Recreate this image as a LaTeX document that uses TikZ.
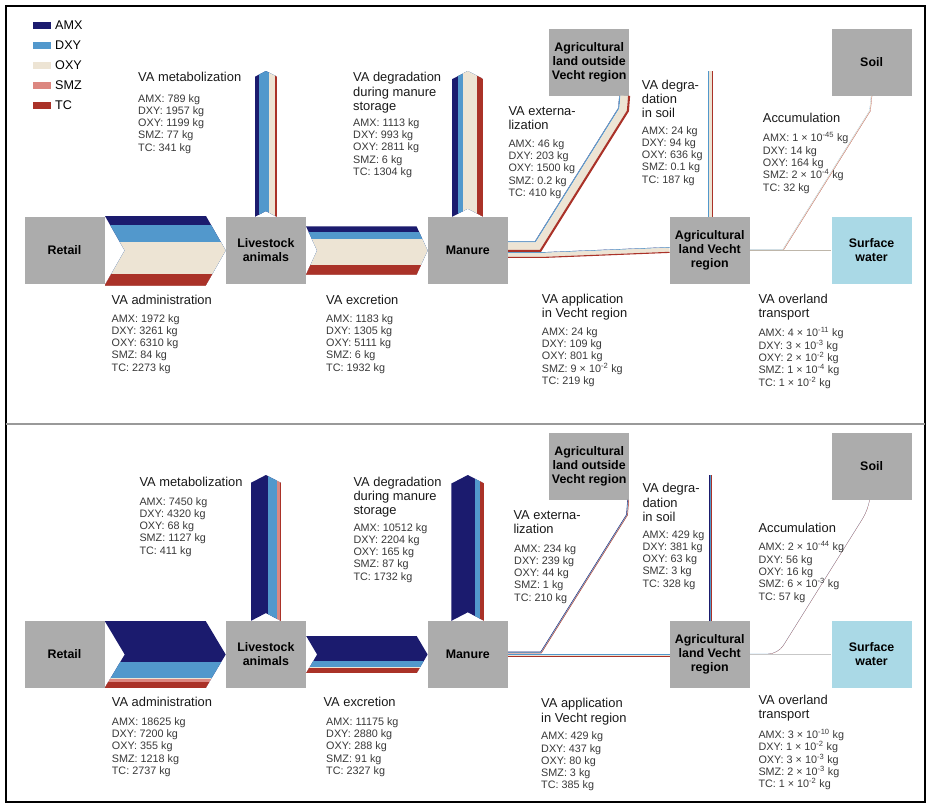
\documentclass[tikz,border=0pt]{standalone}
\usepackage{fontspec}
\setmainfont{Liberation Sans}
\usetikzlibrary{positioning, calc}

\definecolor{amx}{RGB}{27,27,110}
\definecolor{dxy}{RGB}{82,152,204}
\definecolor{oxy}{RGB}{237,228,212}
\definecolor{smz}{RGB}{220,135,128}
\definecolor{tc}{RGB}{170,50,40}
\definecolor{boxgray}{RGB}{172,172,172}
\definecolor{waterblue}{RGB}{170,217,230}
\colorlet{c1}{amx}
\colorlet{c2}{dxy}
\colorlet{c3}{oxy}
\colorlet{c4}{smz}
\colorlet{c5}{tc}

\newcommand\sci[1]{10\textsuperscript{#1}}

% sum of a list of values (tonnes) -> \tot
\newcommand\sumvals[1]{%
  \gdef\tot{0}%
  \foreach \val in {#1}{\pgfmathsetmacro\tmpsum{\tot+\val}\xdef\tot{\tmpsum}}%
}

% wide horizontal band (chevron) between two boxes
\newcommand\hflow[4]{%
  \sumvals{#4}%
  \pgfmathsetmacro\hh{\tot*\scl/2}%
  \begin{scope}
    \clip ($(#1.east)+(0,-\hh)$) -- ($(#2.west)+(-#3,-\hh)$) -- (#2.west)
      -- ($(#2.west)+(-#3,\hh)$) -- ($(#1.east)+(0,\hh)$) -- ($(#1.east)+(#3,0)$) -- cycle;
    \gdef\cum{0}%
    \foreach \val [count=\idx] in {#4}{%
      \pgfmathsetmacro\ya{-\hh+\cum*\scl}%
      \fill[c\idx] ($(#1.east)+(0,\ya)$) rectangle ($(#2.west)+(0,\hh)$);
      \pgfmathsetmacro\tmpsum{\cum+\val}\xdef\cum{\tmpsum}%
    }
  \end{scope}
}

% wide vertical band leaving a box upwards
\newcommand\vflow[3]{%
  \sumvals{#3}%
  \pgfmathsetmacro\hw{\tot*\scl/2}%
  \pgfmathsetmacro\dv{0.52*\hw}%
  \begin{scope}
    \clip ($(#1.north)+(-\hw,0)$) -- ($(#1.north |- #2)+(-\hw,\dv)$) -- (#1.north |- #2)
      -- ($(#1.north |- #2)+(\hw,\dv)$) -- ($(#1.north)+(\hw,0)$) -- ($(#1.north)+(0,-\dv)$) -- cycle;
    \gdef\cum{0}%
    \foreach \val [count=\idx] in {#3}{%
      \pgfmathsetmacro\xa{-\hw+\cum*\scl}%
      \fill[c\idx] ($(#1.north)+(\xa,0)$) rectangle ($(#1.north |- #2)+(\hw,0)$);
      \pgfmathsetmacro\tmpsum{\cum+\val}\xdef\cum{\tmpsum}%
    }
  \end{scope}
}

% thin band: one stroke per substance, shifted sideways
\newcommand\thinflow[2]{%
  \sumvals{#2}%
  \gdef\cum{0}%
  \foreach \val [count=\idx] in {#2}{%
    \pgfmathsetmacro\wid{\val*\scl}%
    \pgfmathsetmacro\off{(\tot/2-\cum-\val/2)*\scl}%
    \ifdim\wid pt>0.05pt
      #1{c\idx, line width=\wid pt}{\off}%
    \fi
    \pgfmathsetmacro\tmpsum{\cum+\val}\xdef\cum{\tmpsum}%
  }%
}

% paths of the thin bands (#2 = sideways offset)
\newcommand\extA[2]{\draw[#1] ($(manure.east)+(0,{-4-(#2)})$) -- ({538-0.554*(#2)},{246.5-(#2)})
  -- ({623.5-(#2)},{109.7-0.287*(#2)}) -- ($(agout.south)+({35.5-(#2)},0)$);}
\newcommand\appA[2]{\draw[#1] ($(manure.east)+(0,{4.5-(#2)})$) -- (545,{255-(#2)})
  -- ($(agvecht.west)+(0,{-0.5-(#2)})$);}
\newcommand\degA[2]{\draw[#1] ($(agvecht.north)+({1-(#2)},0)$) -- ($(agvecht.north |- tipA)+({1-(#2)},0)$);}
\newcommand\accA[2]{\draw[#1] ($(agvecht.east)+(0,{-0.5-(#2)})$) -- ({783-0.554*(#2)},{250-(#2)})
  -- ({870-(#2)},{110.8-0.287*(#2)}) -- ($(soil.south)+({-(#2)},0)$);}

\newcommand\extB[2]{\draw[#1] ($(manureB.east)+(0,{-2-(#2)})$) -- ({541-0.554*(#2)},{248.5-(#2)})
  -- ({627-(#2)},{110.9-0.287*(#2)}) -- ($(agoutB.south)+({39-(#2)},0)$);}
\newcommand\appB[2]{\draw[#1] ($(manureB.east)+(0,{0.5-(#2)})$) -- ($(agvechtB.west)+(0,{0.5-(#2)})$);}
\newcommand\degB[2]{\draw[#1] ($(agvechtB.north)+({0.5-(#2)},0)$) -- ($(agvechtB.north |- tipB)+({0.5-(#2)},0)$);}
\newcommand\accB[2]{\draw[#1, rounded corners=10pt] ($(agvechtB.east)+(0,{-0.5-(#2)})$) -- ({778-0.554*(#2)},{250-(#2)})
  -- ({868-(#2)},{106-0.287*(#2)}) -- ($(soilB.south)+({-2-(#2)},0)$);}

\begin{document}
\begin{tikzpicture}[
    x=1pt, y=-1pt,
    box/.style={
        fill=boxgray,
        minimum width=80pt,
        minimum height=67pt,
        inner sep=0pt,
        align=center,
        font=\bfseries\fontsize{12.4}{14}\selectfont,
    },
    water/.style={
        box,
        fill=waterblue,
    },
    title/.style={
        anchor=north west,
        inner sep=0pt,
        align=left,
        text=black!90,
        font=\fontsize{12.9}{14.2}\selectfont,
    },
    vals/.style={
        anchor=north west,
        inner sep=0pt,
        align=left,
        text=black!78,
        font=\fontsize{10.8}{12.3}\selectfont,
    },
    legend/.style={
        anchor=west,
        inner sep=0pt,
        font=\fontsize{12.6}{14}\selectfont,
    },
]

    \useasboundingbox (0,0) rectangle (930,804);
    \draw[line width=1.6pt] (6,6) rectangle (925,802);
    \draw[black!40, line width=1.2pt] (6,424) -- (925,424);

    % legend
    \foreach \name [count=\idx] in {AMX,DXY,OXY,SMZ,TC}{
        \fill[c\idx] (33,{21.7+20*(\idx-1)}) rectangle +(18,7.3);
        \node[legend] (lgd\idx) at (55,{25.3+20*(\idx-1)}) {\name};
    }

    % upper panel
    \def\scl{5.036}
    \coordinate (tipA) at (0,71);
    \node[box] (retail) at (64.5,250.5) {Retail};
    \node[box, right=121pt of retail] (livestock) {Livestock\\animals};
    \node[box, right=121.5pt of livestock] (manure) {Manure};
    \node[box, right=161.5pt of manure] (agvecht) {Agricultural\\land Vecht\\region};
    \node[water, right=81.5pt of agvecht] (water) {Surface\\water};
    \node[box, above=121pt of water] (soil) {Soil};
    \node[box, left=202pt of soil] (agout) {Agricultural\\land outside\\Vecht region};

    \hflow{retail}{livestock}{20}{1.972,3.261,6.310,0.084,2.273}
    \vflow{livestock}{tipA}{0.789,1.957,1.199,0.077,0.341}
    \hflow{livestock}{manure}{11}{1.183,1.305,5.111,0.006,1.932}
    \vflow{manure}{tipA}{1.113,0.993,2.811,0.006,1.304}
    \thinflow{\extA}{0.046,0.203,1.500,0.0002,0.410}
    \thinflow{\appA}{0.024,0.109,0.801,0.00009,0.219}
    \thinflow{\degA}{0.024,0.094,0.636,0.0001,0.187}
    \thinflow{\accA}{0,0.014,0.164,0,0.032}
    \draw[oxy!80!black, line width=0.7pt] (agvecht.east) -- (water.west);

    \node[title] (metabT) at (138,72) {VA metabolization};
    \node[vals] (metabV) at (138,94) {AMX: 789 kg\\DXY: 1957 kg\\OXY: 1199 kg\\SMZ: 77 kg\\TC: 341 kg};
    \node[title] (adminT) at (111.5,294.5) {VA administration};
    \node[vals] (adminV) at (111.5,314) {AMX: 1972 kg\\DXY: 3261 kg\\OXY: 6310 kg\\SMZ: 84 kg\\TC: 2273 kg};
    \node[title] (excrT) at (326,294.5) {VA excretion};
    \node[vals] (excrV) at (326,314) {AMX: 1183 kg\\DXY: 1305 kg\\OXY: 5111 kg\\SMZ: 6 kg\\TC: 1932 kg};
    \node[title] (degmanT) at (353,72.3) {VA degradation\\during manure\\storage};
    \node[vals] (degmanV) at (353,118.3) {AMX: 1113 kg\\DXY: 993 kg\\OXY: 2811 kg\\SMZ: 6 kg\\TC: 1304 kg};
    \node[title] (extT) at (508.3,106) {VA externa-\\lization};
    \node[vals] (extV) at (508.3,139.3) {AMX: 46 kg\\DXY: 203 kg\\OXY: 1500 kg\\SMZ: 0.2 kg\\TC: 410 kg};
    \node[title] (degsoilT) at (641.7,80) {VA degra-\\dation\\in soil};
    \node[vals] (degsoilV) at (641.7,126) {AMX: 24 kg\\DXY: 94 kg\\OXY: 636 kg\\SMZ: 0.1 kg\\TC: 187 kg};
    \node[title] (appT) at (541.7,294) {VA application\\in Vecht region};
    \node[vals] (appV) at (541.7,327.3) {AMX: 24 kg\\DXY: 109 kg\\OXY: 801 kg\\SMZ: 9 × \sci{-2} kg\\TC: 219 kg};
    \node[title] (accT) at (762.7,113.3) {Accumulation};
    \node[vals] (accV) at (762.7,132.5) {AMX: 1 × \sci{-45} kg\\DXY: 14 kg\\OXY: 164 kg\\SMZ: 2 × \sci{-4} kg\\TC: 32 kg};
    \node[title] (overT) at (758.3,294) {VA overland\\transport};
    \node[vals] (overV) at (758.3,327.5) {AMX: 4 × \sci{-11} kg\\DXY: 3 × \sci{-3} kg\\OXY: 2 × \sci{-2} kg\\SMZ: 1 × \sci{-4} kg\\TC: 1 × \sci{-2} kg};

    % lower panel
    \begin{scope}[yshift=-404pt]
    \def\scl{2.2233}
    \coordinate (tipB) at (0,71);
    \node[box] (retailB) at (64.5,250.5) {Retail};
    \node[box, right=121pt of retailB] (livestockB) {Livestock\\animals};
    \node[box, right=121.5pt of livestockB] (manureB) {Manure};
    \node[box, right=161.5pt of manureB] (agvechtB) {Agricultural\\land Vecht\\region};
    \node[water, right=81.5pt of agvechtB] (waterB) {Surface\\water};
    \node[box, above=121pt of waterB] (soilB) {Soil};
    \node[box, left=202pt of soilB] (agoutB) {Agricultural\\land outside\\Vecht region};

    \hflow{retailB}{livestockB}{20}{18.625,7.200,0.355,1.218,2.737}
    \vflow{livestockB}{tipB}{7.450,4.320,0.068,1.127,0.411}
    \hflow{livestockB}{manureB}{11}{11.175,2.880,0.288,0.091,2.327}
    \vflow{manureB}{tipB}{10.512,2.204,0.165,0.087,1.732}
    \thinflow{\extB}{0.234,0.239,0.044,0.001,0.210}
    \thinflow{\appB}{0.429,0.437,0.080,0.003,0.385}
    \thinflow{\degB}{0.429,0.381,0.063,0.003,0.328}
    \thinflow{\accB}{0,0.056,0.016,0,0.057}
    \draw[black!22, line width=0.7pt] (agvechtB.east) -- (waterB.west);

    \node[title] (metabTB) at (139.3,73.3) {VA metabolization};
    \node[vals] (metabVB) at (139.3,93) {AMX: 7450 kg\\DXY: 4320 kg\\OXY: 68 kg\\SMZ: 1127 kg\\TC: 411 kg};
    \node[title] (adminTB) at (111.7,293.3) {VA administration};
    \node[vals] (adminVB) at (111.7,313.3) {AMX: 18625 kg\\DXY: 7200 kg\\OXY: 355 kg\\SMZ: 1218 kg\\TC: 2737 kg};
    \node[title] (excrTB) at (323.3,293.3) {VA excretion};
    \node[vals] (excrVB) at (326,313.3) {AMX: 11175 kg\\DXY: 2880 kg\\OXY: 288 kg\\SMZ: 91 kg\\TC: 2327 kg};
    \node[title] (degmanTB) at (353.3,72.7) {VA degradation\\during manure\\storage};
    \node[vals] (degmanVB) at (353.3,119) {AMX: 10512 kg\\DXY: 2204 kg\\OXY: 165 kg\\SMZ: 87 kg\\TC: 1732 kg};
    \node[title] (extTB) at (513.3,106) {VA externa-\\lization};
    \node[vals] (extVB) at (514,140) {AMX: 234 kg\\DXY: 239 kg\\OXY: 44 kg\\SMZ: 1 kg\\TC: 210 kg};
    \node[title] (degsoilTB) at (642.3,79.3) {VA degra-\\dation\\in soil};
    \node[vals] (degsoilVB) at (642.3,126) {AMX: 429 kg\\DXY: 381 kg\\OXY: 63 kg\\SMZ: 3 kg\\TC: 328 kg};
    \node[title] (appTB) at (541,294.3) {VA application\\in Vecht region};
    \node[vals] (appVB) at (541,327.7) {AMX: 429 kg\\DXY: 437 kg\\OXY: 80 kg\\SMZ: 3 kg\\TC: 385 kg};
    \node[title] (accTB) at (758.3,119.3) {Accumulation};
    \node[vals] (accVB) at (758.3,137.5) {AMX: 2 × \sci{-44} kg\\DXY: 56 kg\\OXY: 16 kg\\SMZ: 6 × \sci{-3} kg\\TC: 57 kg};
    \node[title] (overTB) at (758.3,291) {VA overland\\transport};
    \node[vals] (overVB) at (758.3,325) {AMX: 3 × \sci{-10} kg\\DXY: 1 × \sci{-2} kg\\OXY: 3 × \sci{-3} kg\\SMZ: 2 × \sci{-3} kg\\TC: 1 × \sci{-2} kg};
    \end{scope}

\end{tikzpicture}
\end{document}
